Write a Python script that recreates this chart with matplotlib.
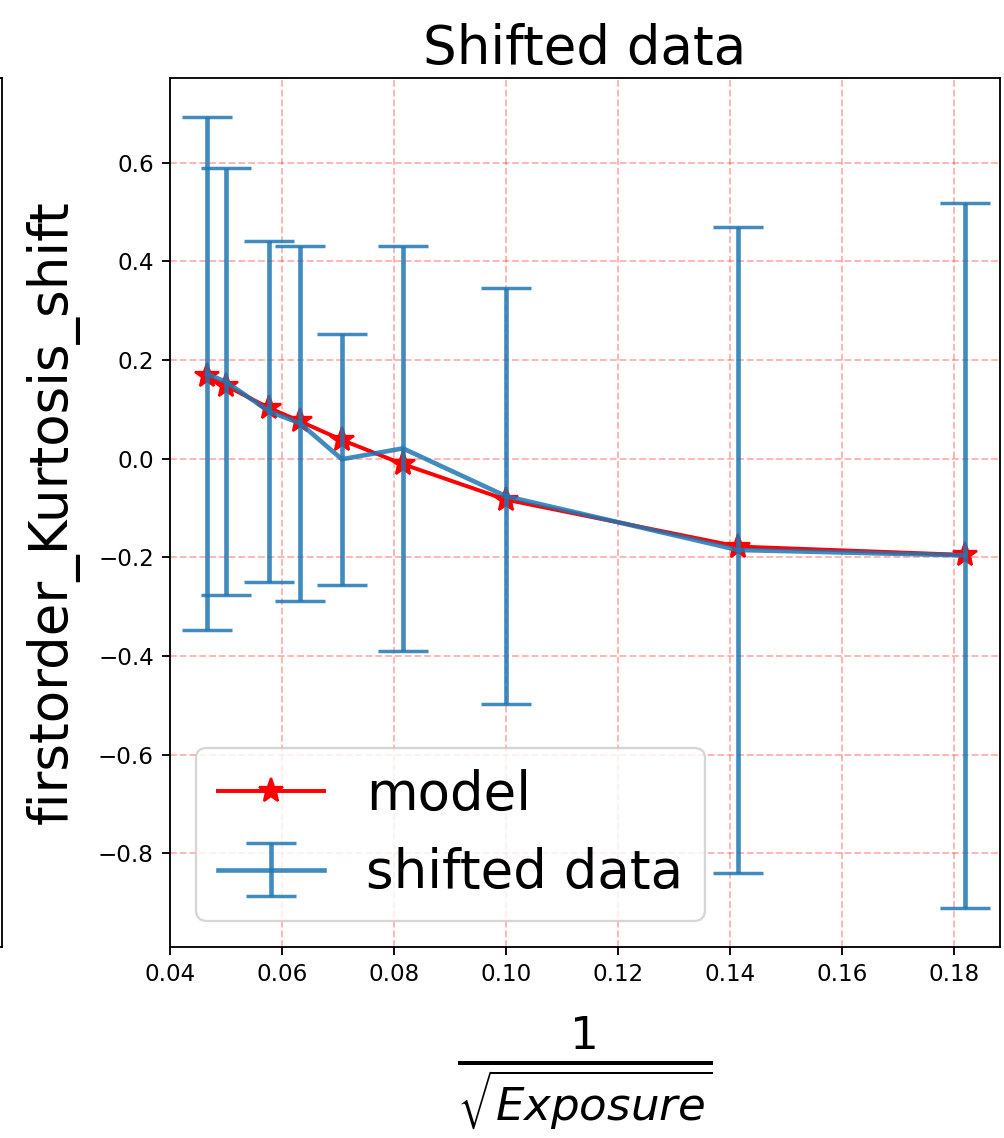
import numpy as np
import matplotlib
matplotlib.use('Agg')
import matplotlib.pyplot as plt

# 1/sqrt(Exposure) positions
inv_sqrt_exposure = [0.0466, 0.0500, 0.0577, 0.0632, 0.0707, 0.0816, 0.1000, 0.1414, 0.1820]

# model values (red stars)
model = [0.167, 0.148, 0.103, 0.076, 0.038, -0.011, -0.083, -0.178, -0.195]

# shifted data mean and error
shifted = [0.172, 0.156, 0.096, 0.072, -0.001, 0.021, -0.076, -0.185, -0.196]
shifted_err = [0.520, 0.433, 0.346, 0.360, 0.254, 0.411, 0.422, 0.654, 0.714]

DPI = 166
fig = plt.figure(figsize=(1004 / DPI, 1138 / DPI), dpi=DPI)

# neighbouring subplot, cut off at the left edge
ax_prev = fig.add_axes([-0.5, 0.1678, 0.5015, 0.7637])
ax_prev.set_xticks([])
ax_prev.set_yticks([])

ax = fig.add_axes([0.1693, 0.1678, 0.8267, 0.7637])
ax.plot(inv_sqrt_exposure, model, 'r*-', markersize=11, linewidth=1.7, label='model')
ax.errorbar(inv_sqrt_exposure, shifted, yerr=shifted_err, color='C0', alpha=0.85,
            linewidth=2, elinewidth=2, capsize=11, capthick=1.5,
            label='shifted data')

ax.grid(color='r', linestyle='--', alpha=0.3)
ax.set_xlim(0.04, 0.1882)
ax.set_xticks([0.04, 0.06, 0.08, 0.10, 0.12, 0.14, 0.16, 0.18])

ax.set_title('Shifted data', fontsize=23)
ax.set_ylabel('firstorder_Kurtosis_shift', fontsize=23, labelpad=8)
ax.set_xlabel(r'$\frac{1}{\sqrt{Exposure}}$', fontsize=28, labelpad=12)
ax.legend(loc='lower left', fontsize=23)

fig.savefig('out.png', dpi=DPI)
